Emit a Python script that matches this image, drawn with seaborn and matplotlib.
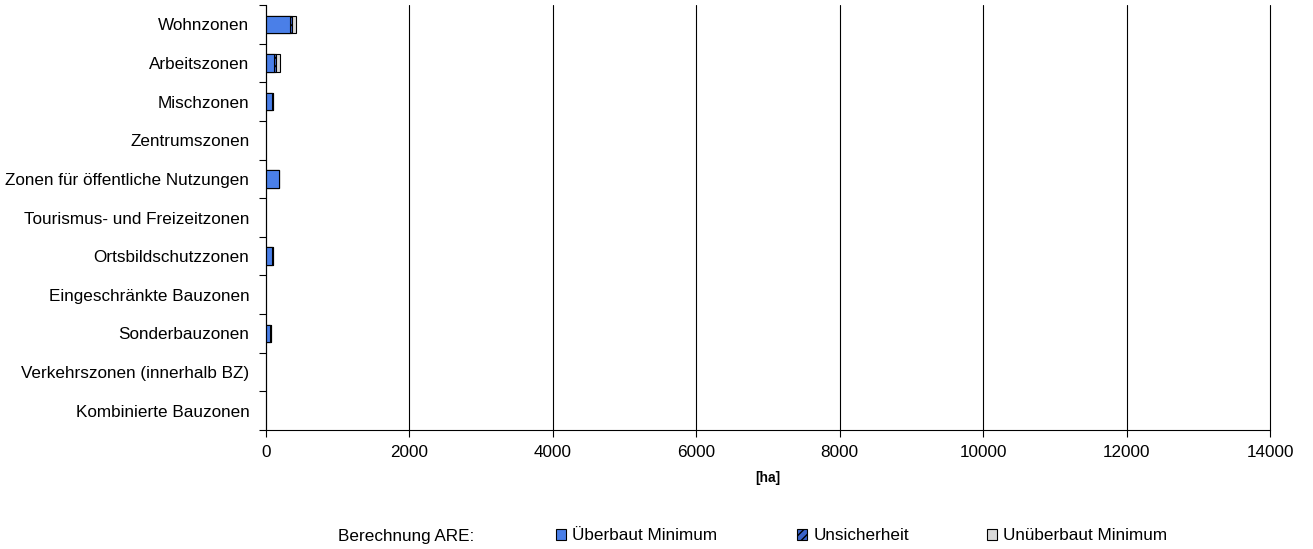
import matplotlib
matplotlib.use("Agg")
import matplotlib.pyplot as plt
import seaborn as sns
import numpy as np
import pandas as pd
from matplotlib.patches import Patch

categories = ["Wohnzonen", "Arbeitszonen", "Mischzonen", "Zentrumszonen",
              "Zonen für öffentliche Nutzungen", "Tourismus- und Freizeitzonen",
              "Ortsbildschutzzonen", "Eingeschränkte Bauzonen", "Sonderbauzonen",
              "Verkehrszonen (innerhalb BZ)", "Kombinierte Bauzonen"]
ueberbaut_min = [330, 115, 80, 0, 175, 0, 85, 0, 60, 0, 0]
unsicherheit = [30, 20, 12, 0, 5, 0, 15, 0, 5, 0, 0]
unueberbaut_min = [55, 55, 5, 0, 3, 0, 3, 0, 2, 0, 0]
x_ticks = [0, 2000, 4000, 6000, 8000, 10000, 12000, 14000]
legend_labels = ["Überbaut Minimum", "Unsicherheit", "Unüberbaut Minimum"]

sns.set_theme(style="white")
plt.rcParams['font.family'] = ['Liberation Sans', 'DejaVu Sans']
plt.rcParams['text.color'] = 'black'
plt.rcParams['xtick.color'] = 'black'
plt.rcParams['ytick.color'] = 'black'
plt.rcParams['axes.labelcolor'] = 'black'

df = pd.DataFrame({"cat": categories, "a": ueberbaut_min,
                   "b": unsicherheit, "c": unueberbaut_min})
df["ab"] = df["a"] + df["b"]
df["abc"] = df["ab"] + df["c"]

fig = plt.figure(figsize=(13.13, 5.49), dpi=100)
ax = fig.add_axes([266/1313, 1-430/549, (1270-266)/1313, (430-5)/549])

blue = "#4A7FE8"
dblue = "#3B63C9"
grey = "#D9D9D9"
w = 0.45
fs = 12.3
sns.barplot(data=df, y="cat", x="abc", color=grey, edgecolor="black",
            linewidth=0.8, width=w, ax=ax, saturation=1, orient="h")
sns.barplot(data=df, y="cat", x="ab", color=dblue, edgecolor="black",
            linewidth=0.8, width=w, ax=ax, saturation=1, orient="h", hatch="////")
sns.barplot(data=df, y="cat", x="a", color=blue, edgecolor="black",
            linewidth=0.8, width=w, ax=ax, saturation=1, orient="h")
for p in ax.patches:
    if p.get_width() == 0:
        p.set_visible(False)

ax.set_xlim(0, 14000)
ax.set_ylim(len(categories) - 0.5, -0.5)
ax.set_xticks(x_ticks)
ax.set_xticklabels([str(t) for t in x_ticks], fontsize=fs)
ax.set_yticks(range(len(categories)))
ax.set_yticklabels(categories, fontsize=fs)
ax.set_yticks(np.arange(-0.5, len(categories) + 0.5, 1), minor=True)
ax.tick_params(axis="y", which="major", length=0, pad=12)
ax.tick_params(axis="y", which="minor", length=5, width=0.8, color="black", left=True)
ax.tick_params(axis="x", which="major", length=5, width=0.8, color="black", bottom=True, pad=6)
ax.set_ylabel("")
ax.set_xlabel("[ha]", fontsize=10, fontweight="bold", labelpad=8)
ax.xaxis.grid(True, color="black", linewidth=0.8)
for gl in ax.get_xgridlines():
    gl.set_clip_on(False)
ax.yaxis.grid(False)
ax.set_axisbelow(True)
for s in ["top", "right"]:
    ax.spines[s].set_visible(False)
for s in ["left", "bottom"]:
    ax.spines[s].set_color("black")
    ax.spines[s].set_linewidth(0.8)

ly = 1 - 536/549
fig.text(338/1313, ly, "Berechnung ARE:", fontsize=fs, va="center", ha="left")
handles = [Patch(facecolor=blue, edgecolor="black", linewidth=0.8),
           Patch(facecolor=dblue, edgecolor="black", linewidth=0.8, hatch="////"),
           Patch(facecolor=grey, edgecolor="black", linewidth=0.8)]
for h, lab, xp in zip(handles, legend_labels, [556, 797, 987]):
    fig.legend(handles=[h], labels=[lab], loc="center left",
               bbox_to_anchor=(xp/1313, ly), frameon=False, fontsize=fs,
               handlelength=0.6, handleheight=0.6, handletextpad=0.35,
               borderaxespad=0, borderpad=0)

fig.savefig("out.png", dpi=100)
